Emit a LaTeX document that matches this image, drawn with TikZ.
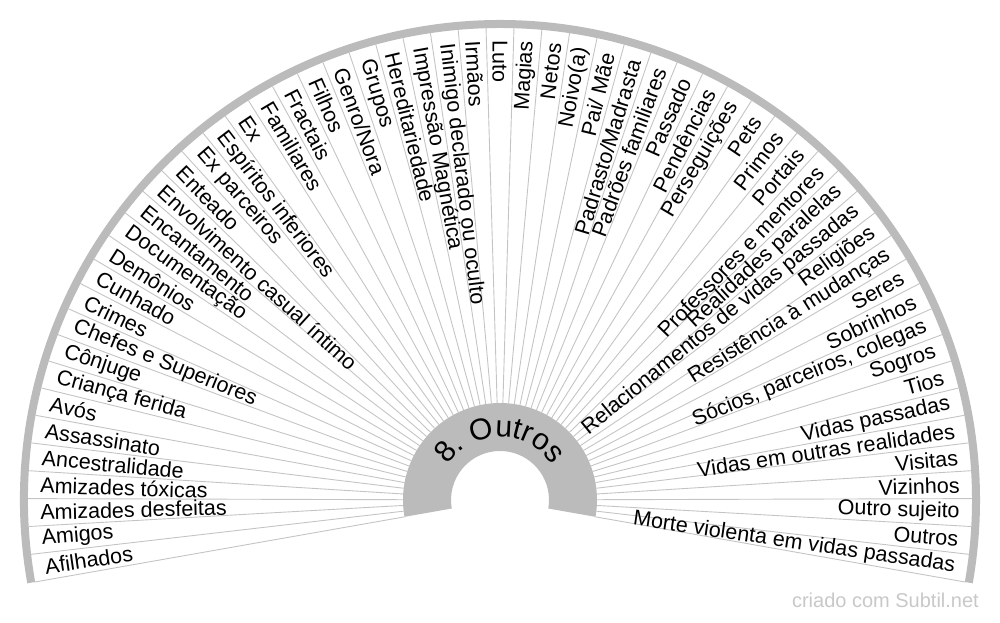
\documentclass[tikz,border=0pt]{standalone}
\usepackage{fontspec}
\setmainfont{Liberation Sans}
\usetikzlibrary{calc,decorations.text}
\definecolor{bandgray}{HTML}{BBBBBB}
\definecolor{linegray}{HTML}{C4C4C4}
\definecolor{markgray}{HTML}{C8C8C8}
\tikzset{
  rim/.style={draw=bandgray, line width=8pt},
  spoke/.style={draw=linegray, line width=0.9pt},
  lbl/.style={inner sep=0pt, font=\fontsize{21.5}{22}\selectfont, text=black},
}
\begin{document}
\begin{tikzpicture}[x=1pt,y=1pt]
\useasboundingbox (0,0) rectangle (1000,622);
\coordinate (C) at (500,122);
% inner ring
\fill[bandgray] ($(C)+(190:97)$) arc[start angle=190, end angle=-10, radius=97]
  -- ($(C)+(-10:49)$) arc[start angle=-10, end angle=190, radius=49] -- cycle;
% spokes
\foreach \k in {0,...,59} {
  \pgfmathsetmacro\a{190-\k*200/59}
  \coordinate (s\k) at ($(C)+(\a:97)$);
  \coordinate (e\k) at ($(C)+(\a:472)$);
  \draw[spoke] (s\k) -- (e\k);
}
% rim
\draw[rim] ($(C)+(190:476)$) arc[start angle=190, end angle=-10, radius=476];
% labels
\foreach \t [count=\i] in {Afilhados,Amigos,Amizades desfeitas,Amizades tóxicas,Ancestralidade,Assassinato,Avós,Criança ferida,Cônjuge,Chefes e Superiores,Crimes,Cunhado,Demônios,Documentação,Encantamento,Envolvimento casual íntimo,Enteado,Ex parceiros,Espíritos inferiores,Ex,Familiares,Fractais,Filhos,Genro/Nora,Grupos,Hereditariedade,Impressão Magnética,Inimigo declarado ou oculto,Irmãos,Luto,Magias,Netos,Noivo(a),Pai/ Mãe,Padrasto/Madrasta,Padrões familiares,Passado,Pendências,Perseguições,Pets,Primos,Portais,Professores e mentores,Realidades paralelas,Relacionamentos de vidas passadas,Religiões,Resistência à mudanças,Seres,Sobrinhos,{Sócios, parceiros, colegas},Sogros,Tios,Vidas passadas,Vidas em outras realidades,Visitas,Vizinhos,Outro sujeito,Outros,Morte violenta em vidas passadas} {
  \pgfmathsetmacro\a{190-(\i-0.5)*200/59}
  \ifnum\i<31
    \node[lbl, anchor=west, rotate=\a-180] (l\i) at ($(C)+(\a:460)$) {\t};
  \else
    \node[lbl, anchor=east, rotate=\a] (l\i) at ($(C)+(\a:460)$) {\t};
  \fi
}
% ring title
\path[decorate, decoration={text along path, text align=center,
  text={|\fontsize{30}{30}\selectfont|8. Outros}}]
  ($(C)+(180:63)$) arc[start angle=180, end angle=0, radius=63];
% watermark
\node[font=\fontsize{20}{20}\selectfont, text=markgray, anchor=base east, inner sep=0pt] (wm) at (979,15) {criado com Subtil.net};
\end{tikzpicture}
\end{document}
